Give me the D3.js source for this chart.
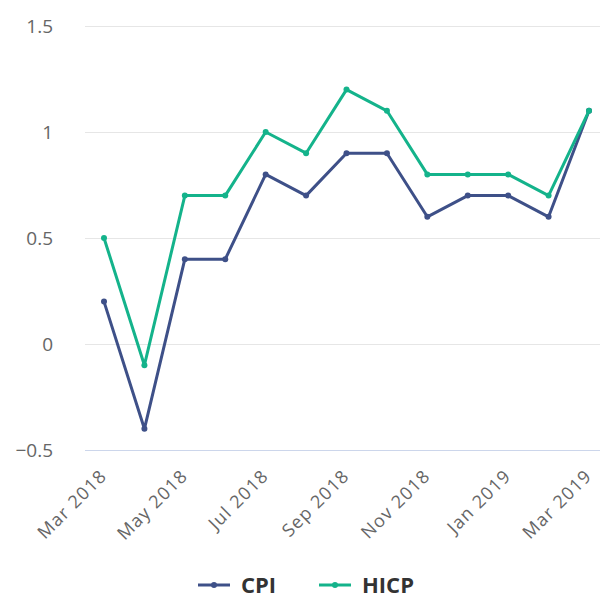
<!DOCTYPE html>
<html>
<head>
    <script src="https://d3js.org/d3.v7.min.js"></script>
    <style>
        body { margin: 0; background: #fff; }
        text { font-family: "Open Sans", sans-serif; }
    </style>
</head>
<body>
<script>
// data
var months = ["Mar 2018", "Apr 2018", "May 2018", "Jun 2018", "Jul 2018", "Aug 2018", "Sep 2018",
              "Oct 2018", "Nov 2018", "Dec 2018", "Jan 2019", "Feb 2019", "Mar 2019"];
var cpi  = [0.2, -0.4, 0.4, 0.4, 0.8, 0.7, 0.9, 0.9, 0.6, 0.7, 0.7, 0.6, 1.1];
var hicp = [0.5, -0.1, 0.7, 0.7, 1.0, 0.9, 1.2, 1.1, 0.8, 0.8, 0.8, 0.7, 1.1];
var yTicks = [-0.5, 0, 0.5, 1, 1.5];

var series = [
    { name: "CPI", values: cpi, color: "#3e5088" },
    { name: "HICP", values: hicp, color: "#14b38b" }
];

var width = 600, height = 599;

var svg = d3.select("body").append("svg")
    .attr("width", width)
    .attr("height", height);

// plot area
var plotLeft = 85, plotRight = 600, plotTop = 26, plotBottom = 450;

var xScale = d3.scaleLinear()
    .domain([0, months.length - 1])
    .range([104, 589]);

var yScale = d3.scaleLinear()
    .domain([-0.5, 1.5])
    .range([plotBottom, plotTop]);

// gridlines
svg.append("g")
    .selectAll("line")
    .data(yTicks)
    .enter().append("line")
    .attr("x1", plotLeft)
    .attr("x2", plotRight)
    .attr("y1", function (d) { return Math.round(yScale(d)) + 0.5; })
    .attr("y2", function (d) { return Math.round(yScale(d)) + 0.5; })
    .attr("stroke", function (d) { return d === -0.5 ? "#ccd6eb" : "#e6e6e6"; })
    .attr("stroke-width", 1);

// y labels
svg.append("g")
    .selectAll("text")
    .data(yTicks)
    .enter().append("text")
    .attr("x", 53)
    .attr("y", function (d) { return yScale(d) + 7; })
    .attr("text-anchor", "end")
    .style("font-size", "19px")
    .style("fill", "#666666")
    .text(function (d) { return d < 0 ? "\u2212" + Math.abs(d) : d; });

// x labels, every other month
svg.append("g")
    .selectAll("text")
    .data(months.filter(function (m, i) { return i % 2 === 0; }))
    .enter().append("text")
    .attr("transform", function (d) {
        var i = months.indexOf(d);
        return "translate(" + (xScale(i) + 4) + "," + (plotBottom + 27) + ") rotate(-45)";
    })
    .attr("text-anchor", "end")
    .style("font-size", "18px")
    .style("letter-spacing", "1.2px")
    .style("fill", "#666666")
    .text(function (d) { return d; });

var line = d3.line()
    .x(function (d, i) { return xScale(i); })
    .y(function (d) { return yScale(d); });

series.forEach(function (s) {
    svg.append("path")
        .attr("d", line(s.values))
        .attr("fill", "none")
        .attr("stroke", s.color)
        .attr("stroke-width", 3)
        .attr("stroke-linejoin", "round")
        .attr("stroke-linecap", "round");

    svg.append("g")
        .selectAll("circle")
        .data(s.values)
        .enter().append("circle")
        .attr("cx", function (d, i) { return xScale(i); })
        .attr("cy", function (d) { return yScale(d); })
        .attr("r", 3)
        .attr("fill", s.color);
});

// legend
var legendX = [198, 319];
var legend = svg.append("g");
series.forEach(function (s, i) {
    var g = legend.append("g").attr("transform", "translate(" + legendX[i] + ",585)");
    g.append("line")
        .attr("x1", 0).attr("x2", 32)
        .attr("y1", 0).attr("y2", 0)
        .attr("stroke", s.color)
        .attr("stroke-width", 3);
    g.append("circle")
        .attr("cx", 16).attr("cy", 0).attr("r", 3)
        .attr("fill", s.color);
    g.append("text")
        .attr("x", 43)
        .attr("y", 8)
        .style("font-size", "22px")
        .style("font-weight", "bold")
        .style("fill", "#333333")
        .text(s.name);
});
</script>
</body>
</html>
